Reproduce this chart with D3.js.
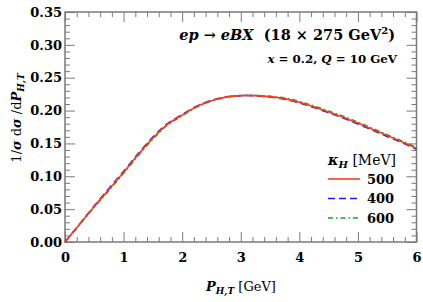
<!DOCTYPE html>
<html><head><meta charset="utf-8">
<script src="https://cdn.jsdelivr.net/npm/d3@7"></script>
<style>
body{margin:0;background:#fff;}
svg{display:block;}
text{font-family:"DejaVu Serif",serif;fill:#000;}
</style></head>
<body>
<svg id="c" width="423" height="302"></svg>
<script>
const pht   = [0,0.25,0.5,0.75,1.0,1.25,1.5,1.75,2.0,2.25,2.5,2.75,3.0,3.25,3.5,3.75,4.0,4.25,4.5,4.75,5.0,5.25,5.5,5.75,6.0];
const k500  = [0,0.027,0.054,0.080,0.106,0.133,0.158,0.179,0.193,0.206,0.215,0.2205,0.2228,0.2228,0.2212,0.2182,0.2128,0.2058,0.198,0.190,0.181,0.1715,0.162,0.1525,0.1425];
const k400  = [0,0.0275,0.055,0.0815,0.1075,0.1345,0.1595,0.180,0.194,0.2068,0.2155,0.2208,0.2228,0.2226,0.2206,0.2173,0.2118,0.2046,0.1968,0.1886,0.1796,0.1702,0.1607,0.1512,0.1412];
const k600  = [0,0.0265,0.053,0.0785,0.1045,0.1315,0.1565,0.178,0.192,0.2052,0.2145,0.2202,0.2228,0.2230,0.2218,0.2191,0.2138,0.2070,0.1992,0.1914,0.1824,0.1728,0.1633,0.1538,0.1438];
const xMajor = [0,1,2,3,4,5,6];
const yMajor = [0,0.05,0.10,0.15,0.20,0.25,0.30,0.35];
const seriesNames = ["500","400","600"];

const W=423,H=302, L=65, R=416.5, T=12, B=242;
const svg=d3.select("#c");
const x=d3.scaleLinear().domain([0,6]).range([L,R]);
const y=d3.scaleLinear().domain([0,0.35]).range([B,T]);
const xMinor=d3.range(0,6.0001,0.2).filter(v=>Math.abs(v-Math.round(v))>1e-6);
const yMinor=d3.range(0,0.3501,0.01).filter(v=>Math.abs(v*20-Math.round(v*20))>1e-6);
const axCol="#7a7a7a";

function styleAxis(g){g.select(".domain").remove();g.selectAll("line").attr("stroke",axCol).attr("stroke-width",1);}

// bottom
svg.append("g").attr("transform",`translate(0,${B})`)
  .call(d3.axisBottom(x).tickValues(xMajor).tickSize(-10).tickPadding(11).tickFormat(d3.format("d")))
  .call(styleAxis).call(g=>g.selectAll("text").attr("font-size",13).attr("font-weight","bold").attr("font-family","DejaVu Serif"));
svg.append("g").attr("transform",`translate(0,${B})`)
  .call(d3.axisBottom(x).tickValues(xMinor).tickSize(-5).tickFormat(""))
  .call(styleAxis);
// top
svg.append("g").attr("transform",`translate(0,${T})`)
  .call(d3.axisTop(x).tickValues(xMajor).tickSize(-10).tickFormat("")).call(styleAxis);
svg.append("g").attr("transform",`translate(0,${T})`)
  .call(d3.axisTop(x).tickValues(xMinor).tickSize(-5).tickFormat("")).call(styleAxis);
// left
svg.append("g").attr("transform",`translate(${L},0)`)
  .call(d3.axisLeft(y).tickValues(yMajor).tickSize(-10).tickPadding(3).tickFormat(d3.format(".2f")))
  .call(styleAxis).call(g=>g.selectAll("text").attr("font-size",13).attr("font-weight","bold").attr("font-family","DejaVu Serif"));
svg.append("g").attr("transform",`translate(${L},0)`)
  .call(d3.axisLeft(y).tickValues(yMinor).tickSize(-5).tickFormat("")).call(styleAxis);
// right
svg.append("g").attr("transform",`translate(${R},0)`)
  .call(d3.axisRight(y).tickValues(yMajor).tickSize(-10).tickFormat("")).call(styleAxis);
svg.append("g").attr("transform",`translate(${R},0)`)
  .call(d3.axisRight(y).tickValues(yMinor).tickSize(-5).tickFormat("")).call(styleAxis);
// frame
svg.append("rect").attr("x",L).attr("y",T).attr("width",R-L).attr("height",B-T)
  .attr("fill","none").attr("stroke",axCol).attr("stroke-width",1.5);

// curves
const line=d3.line().x((d,i)=>x(pht[i])).y(d=>y(d)).curve(d3.curveCatmullRom);
const styles=[
  {data:k500,color:"#ff3b1a",dash:null},
  {data:k400,color:"#1a1aff",dash:"7,4"},
  {data:k600,color:"#16a816",dash:"5,3,1.5,3"}
];
const plot=svg.append("g");
[styles[2],styles[1],styles[0]].forEach(s=>{
  plot.append("path").datum(s.data).attr("d",line).attr("fill","none")
    .attr("stroke",s.color).attr("stroke-width",1.6)
    .attr("stroke-dasharray",s.dash);
});

// title
const t1=svg.append("text").attr("x",395).attr("y",40).attr("text-anchor","end").attr("font-size",14.5).attr("font-weight","bold");
t1.append("tspan").attr("font-style","italic").text("ep");
t1.append("tspan").text(" → ");
t1.append("tspan").attr("font-style","italic").text("eBX");
t1.append("tspan").text("\u00a0\u00a0(18 × 275 GeV");
t1.append("tspan").attr("font-size",10).attr("dy",-6).text("2");
t1.append("tspan").attr("dy",6).text(")");

const t2=svg.append("text").attr("x",397).attr("y",63).attr("text-anchor","end").attr("font-size",11.8).attr("font-weight","bold");
t2.append("tspan").attr("font-style","italic").text("x");
t2.append("tspan").text(" = 0.2, ");
t2.append("tspan").attr("font-style","italic").text("Q");
t2.append("tspan").text(" = 10 GeV");

// x label
const xl=svg.append("text").attr("x",241).attr("y",291).attr("text-anchor","middle").attr("font-size",13);
xl.append("tspan").attr("font-style","italic").attr("font-weight","bold").text("P");
xl.append("tspan").attr("font-size",9).attr("dy",3).attr("font-style","italic").attr("font-weight","bold").text("H,T");
xl.append("tspan").attr("dy",-3).text(" [GeV]");

// y label
const yl=svg.append("text").attr("transform","translate(21,118) rotate(-90)").attr("text-anchor","middle").attr("font-size",13);
yl.append("tspan").text("1/");
yl.append("tspan").attr("font-style","italic").attr("font-weight","bold").text("σ");
yl.append("tspan").text(" d");
yl.append("tspan").attr("font-style","italic").attr("font-weight","bold").text("σ");
yl.append("tspan").text(" /d");
yl.append("tspan").attr("font-style","italic").attr("font-weight","bold").text("P");
yl.append("tspan").attr("font-size",9).attr("dy",3).attr("font-style","italic").attr("font-weight","bold").text("H,T");

// legend
const lg=svg.append("text").attr("x",328).attr("y",165).attr("font-size",14);
lg.append("tspan").attr("font-style","italic").attr("font-weight","bold").text("κ");
lg.append("tspan").attr("font-size",10).attr("dy",3).attr("font-style","italic").attr("font-weight","bold").text("H");
lg.append("tspan").attr("dy",-3).text(" [MeV]");
const ly=[179,198.5,218];
styles.forEach((s,i)=>{
  svg.append("line").attr("x1",328).attr("x2",360).attr("y1",ly[i]).attr("y2",ly[i])
    .attr("stroke",s.color).attr("stroke-width",1.6).attr("stroke-dasharray",s.dash);
  svg.append("text").attr("x",367).attr("y",ly[i]+4.5).attr("font-size",13).attr("font-weight","bold").text(seriesNames[i]);
});
</script>
</body></html>
